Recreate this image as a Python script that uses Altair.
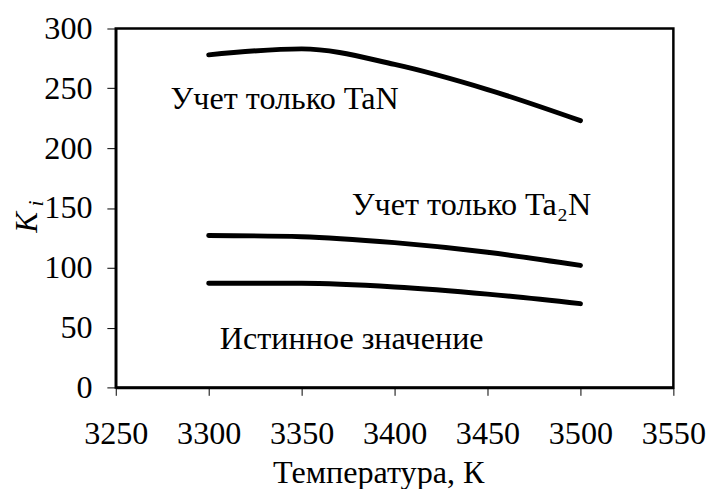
import altair as alt
import pandas as pd

temps = [3300, 3350, 3400, 3450, 3500]
k_tan = [278, 283, 270, 249, 223]
k_ta2n = [127, 126, 121, 113, 102]
k_true = [87, 87, 84, 78, 70]

series_names = ["TaN", "Ta2N", "true"]

label_text = ["Учет только TaN", "Учет только Ta₂N", "Истинное значение"]
label_x = [3279.5, 3377, 3306]
label_y = [241, 152, 40]

x_ticks = [3250, 3300, 3350, 3400, 3450, 3500, 3550]
y_ticks = [0, 50, 100, 150, 200, 250, 300]

rows = []
for name, vals in zip(series_names, [k_tan, k_ta2n, k_true]):
    for t, v in zip(temps, vals):
        rows.append({"T": t, "K": v, "s": name})
df = pd.DataFrame(rows)
labels = pd.DataFrame({"T": label_x, "K": label_y, "text": label_text})

FONT = "'Liberation Serif', 'Times New Roman', 'DejaVu Serif', serif"
FS = 32.5
W, H = 564, 363

xs = alt.Scale(domain=[3250, 3550], nice=False, zero=False)
ys = alt.Scale(domain=[0, 300], nice=False, zero=False)

lines = alt.Chart(df).mark_line(color="black", strokeWidth=5, strokeCap="round",
                                interpolate="monotone").encode(
    x=alt.X("T:Q", scale=xs, axis=alt.Axis(
        values=x_ticks, format="d", title="Температура, К", grid=False,
        labelPadding=23, tickSize=8, titleX=265.5, titleY=96,
        titleAlign="center", titleBaseline="alphabetic", labelFlush=False)),
    y=alt.Y("K:Q", scale=ys, axis=alt.Axis(
        values=y_ticks, format="d", title=None, grid=False, labelPadding=15, tickSize=9)),
    detail="s:N",
)

texts = alt.Chart(labels).mark_text(font=FONT, fontSize=FS, align="left",
                                    baseline="middle", color="black").encode(
    x=alt.X("T:Q", scale=xs), y=alt.Y("K:Q", scale=ys), text="text:N")

ytitle_k = alt.Chart(pd.DataFrame({"t": ["K"]})).mark_text(
    font=FONT, fontSize=31.5, fontStyle="italic", angle=270, align="center",
    baseline="alphabetic", color="black").encode(
    x=alt.value(-80), y=alt.value(196), text="t:N")

ytitle_i = alt.Chart(pd.DataFrame({"t": ["i"]})).mark_text(
    font=FONT, fontSize=22, fontStyle="italic", angle=270, align="center",
    baseline="alphabetic", color="black").encode(
    x=alt.value(-74), y=alt.value(177), text="t:N")

chart = alt.layer(lines, texts, ytitle_k, ytitle_i).properties(
    width=W, height=H,
    autosize=alt.AutoSizeParams(type="none"),
    padding={"left": 109, "top": 18, "right": 33, "bottom": 100},
).configure_view(stroke="black", strokeWidth=2.5).configure_axis(
    labelFont=FONT, labelFontSize=FS, labelColor="black",
    titleFont=FONT, titleFontSize=FS, titleColor="black", titleFontWeight="normal",
    domainColor="black", domainWidth=2.5, tickColor="black", tickWidth=1,
)

chart.save("out.html", embed_options={"renderer": "svg", "actions": False})
